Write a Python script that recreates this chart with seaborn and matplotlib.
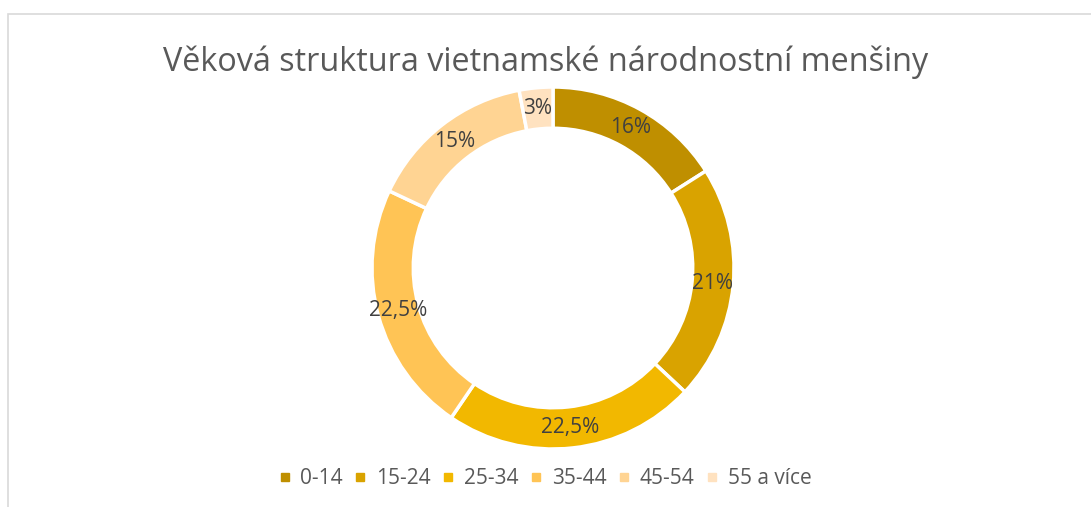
import matplotlib
matplotlib.use("Agg")
import matplotlib.pyplot as plt
import seaborn as sns
from matplotlib.patches import Rectangle
from matplotlib.lines import Line2D

# data
age_groups = ["0-14", "15-24", "25-34", "35-44", "45-54", "55 a více"]
shares = [16, 21, 22.5, 22.5, 15, 3]
share_labels = ["16%", "21%", "22,5%", "22,5%", "15%", "3%"]
colors = ["#BF8F00", "#D9A300", "#F2B800", "#FFC455", "#FFD493", "#FFE2C0"]

title = "Věková struktura vietnamské národnostní menšiny"

sns.set_theme(style="white")
plt.rcParams["font.family"] = ["Open Sans", "DejaVu Sans"]

fig = plt.figure(figsize=(10.91, 5.07), dpi=100)

# light grey frame of the chart area (runs off the right and bottom edges)
fig.patches.append(Rectangle((8 / 1091, -0.1), 1.2, (507 - 13.5) / 507 + 0.1,
                             transform=fig.transFigure, fill=False,
                             edgecolor="#D9D9D9", linewidth=1.2))

ax = fig.add_axes([372 / 1091, (507 - 449) / 507, 362 / 1091, 362 / 507])
wedges, texts = ax.pie(
    shares,
    colors=colors,
    startangle=90,
    counterclock=False,
    radius=1,
    labels=share_labels,
    labeldistance=0.885,
    wedgeprops=dict(width=0.228, edgecolor="white", linewidth=2.5),
    textprops=dict(color="#404040", fontsize=15, ha="center", va="center"),
)
ax.set_xlim(-1, 1)
ax.set_ylim(-1, 1)
ax.set_aspect("equal")
ax.axis("off")

fig.text(0.5, (507 - 62) / 507, title, ha="center", va="center",
         fontsize=23.3, color="#595959")

# square legend markers like the original
handles = [Line2D([], [], linestyle="none", marker="s", markersize=6,
                  markerfacecolor=c, markeredgecolor=c) for c in colors]
fig.legend(handles, age_groups, loc="center", bbox_to_anchor=(0.5, (507 - 479) / 507),
           ncol=6, frameon=False, fontsize=15, labelcolor="#595959",
           handlelength=0.5, handletextpad=0.5, columnspacing=0.6)

fig.savefig("out.png", dpi=100)
